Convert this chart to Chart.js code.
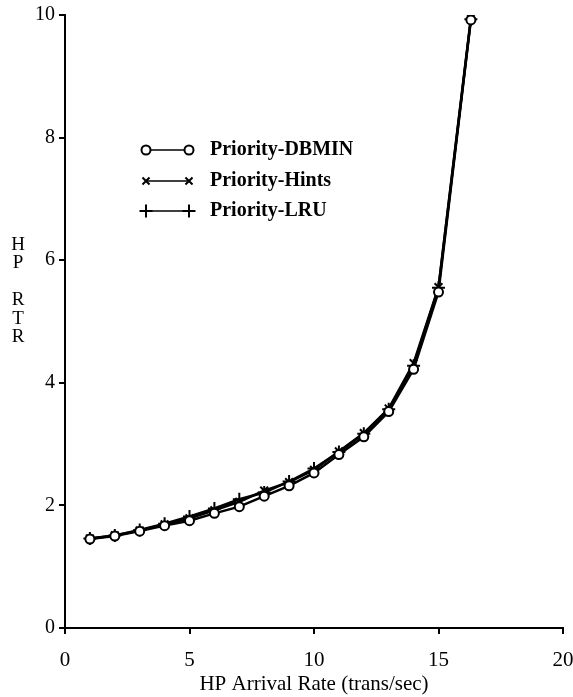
<!DOCTYPE html>
<html>
<head>
<meta charset="utf-8">
<script src="https://cdn.jsdelivr.net/npm/chart.js@4.4.1/dist/chart.umd.min.js"></script>
<style>
  html, body { margin: 0; padding: 0; background: #fff; }
  #wrap { width: 573px; height: 697px; }
</style>
</head>
<body>
<div id="wrap"><canvas id="c" width="573" height="697"></canvas></div>
<script>
// HP arrival rate (trans/sec)
const arrivalRate = [1, 2, 3, 4, 5, 6, 7, 8, 9, 10, 11, 12, 13, 14, 15, 16.3];

// HP response time ratio per buffer policy
const dbminRTR = [1.45, 1.50, 1.58, 1.67, 1.75, 1.87, 1.98, 2.15, 2.32, 2.53, 2.83, 3.12, 3.53, 4.22, 5.48, 9.92];
const hintsRTR = [1.46, 1.51, 1.59, 1.69, 1.79, 1.92, 2.06, 2.24, 2.38, 2.58, 2.88, 3.18, 3.58, 4.32, 5.56, 9.95];
const lruRTR   = [1.46, 1.51, 1.60, 1.70, 1.82, 1.95, 2.10, 2.21, 2.39, 2.60, 2.87, 3.17, 3.57, 4.28, 5.55, 9.93];

const seriesLabels = ['Priority-DBMIN', 'Priority-Hints', 'Priority-LRU'];
const xTicks = [0, 5, 10, 15, 20];
const yTicks = [0, 2, 4, 6, 8, 10];
const yTitleLines = ['H', 'P', '', 'R', 'T', 'R'];
const xTitle = 'HP Arrival Rate (trans/sec)';

const SERIF = '"Liberation Serif", "DejaVu Serif", serif';

function pts(ys) { return arrivalRate.map((x, i) => ({ x: x, y: ys[i] })); }

const styles = [
  { pointStyle: 'circle', pointRadius: 4.5, pointBackgroundColor: '#fff' },
  { pointStyle: 'crossRot', pointRadius: 5.5, pointBackgroundColor: '#000' },
  { pointStyle: 'cross', pointRadius: 6.5, pointBackgroundColor: '#000' }
];
const seriesData = [dbminRTR, hintsRTR, lruRTR];

const datasets = seriesData.map((d, i) => Object.assign({
  label: seriesLabels[i],
  data: pts(d),
  borderColor: '#000',
  borderWidth: 2.5,
  pointBorderColor: '#000',
  pointBorderWidth: 2,
  tension: 0,
  fill: false
}, styles[i]));

// Legend inside the plot plus the stacked vertical y-axis title
const decorations = {
  id: 'decorations',
  afterDraw(chart) {
    const ctx = chart.ctx;
    ctx.save();
    const rows = [150, 181, 211];
    const x0 = 146, x1 = 189;
    chart.data.datasets.forEach((ds, i) => {
      const y = rows[i];
      ctx.strokeStyle = '#000';
      ctx.lineWidth = 1.5;
      ctx.beginPath();
      ctx.moveTo(x0, y);
      ctx.lineTo(x1, y);
      ctx.stroke();
      [x0, x1].forEach(px => {
        if (ds.pointStyle === 'circle') {
          ctx.fillStyle = '#fff';
          ctx.lineWidth = 2;
          ctx.beginPath();
          ctx.arc(px, y, 4.5, 0, Math.PI * 2);
          ctx.fill();
          ctx.stroke();
        } else {
          ctx.lineWidth = 2;
          Chart.helpers.drawPoint(ctx, {
            pointStyle: ds.pointStyle,
            radius: ds.pointStyle === 'cross' ? 6.5 : 5,
            borderWidth: 2
          }, px, y);
        }
      });
      ctx.fillStyle = '#000';
      ctx.font = 'bold 20px ' + SERIF;
      ctx.textBaseline = 'middle';
      ctx.textAlign = 'left';
      ctx.fillText(ds.label, 210, y);
    });
    ctx.font = '19px ' + SERIF;
    ctx.textAlign = 'center';
    ctx.textBaseline = 'middle';
    ctx.fillStyle = '#000';
    yTitleLines.forEach((s, i) => {
      if (s) ctx.fillText(s, 18, 245 + i * 18.5);
    });
    ctx.restore();
  }
};

new Chart(document.getElementById('c'), {
  type: 'line',
  data: { datasets: datasets },
  plugins: [decorations],
  options: {
    responsive: false,
    animation: false,
    layout: { padding: { top: 15, right: 10, left: 0, bottom: 0 } },
    plugins: { legend: { display: false }, tooltip: { enabled: false } },
    scales: {
      x: {
        type: 'linear',
        min: 0, max: 20,
        afterBuildTicks(axis) { axis.ticks = xTicks.map(v => ({ value: v })); },
        afterFit(axis) { axis.height = 69; axis.paddingLeft = 0; axis.paddingRight = 0; },
        border: { color: '#000', width: 2 },
        grid: { drawOnChartArea: false, drawTicks: true, tickLength: 6, color: '#000', lineWidth: 2 },
        ticks: { color: '#000', font: { family: SERIF, size: 21 }, padding: 14, maxRotation: 0 },
        title: { display: true, text: xTitle, color: '#000', font: { family: SERIF, size: 21, lineHeight: 1.0 }, padding: { top: 0, bottom: 2 } }
      },
      y: {
        type: 'linear',
        min: 0, max: 10,
        afterBuildTicks(axis) { axis.ticks = yTicks.map(v => ({ value: v })); },
        afterFit(axis) { axis.width = 65; axis.paddingTop = 0; axis.paddingBottom = 0; },
        border: { color: '#000', width: 2 },
        grid: { drawOnChartArea: false, drawTicks: true, tickLength: 6, color: '#000', lineWidth: 2 },
        ticks: { color: '#000', font: { family: SERIF, size: 20 }, padding: 4 }
      }
    }
  }
});
</script>
</body>
</html>
